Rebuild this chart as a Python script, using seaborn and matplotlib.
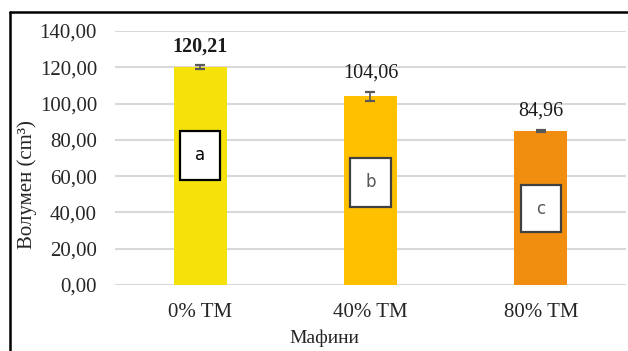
import matplotlib
matplotlib.use("Agg")
import matplotlib.pyplot as plt
from matplotlib.patches import Rectangle
from matplotlib.lines import Line2D
import seaborn as sns
import pandas as pd

# Muffin volume by share of added ingredient
categories = ["0% TM", "40% TM", "80% TM"]
volumes = [120.21, 104.06, 84.96]
errors = [1.0, 2.4, 0.5]
value_labels = ["120,21", "104,06", "84,96"]
letters = ["a", "b", "c"]
bar_colors = ["#F4E20A", "#FFC000", "#F18E10"]
ytick_values = [0, 20, 40, 60, 80, 100, 120, 140]
ytick_labels = ["0,00", "20,00", "40,00", "60,00", "80,00", "100,00", "120,00", "140,00"]

# letter boxes (bottom, top) in data units
box_spans = [(57.9, 84.9), (43.0, 70.0), (29.2, 55.1)]
box_edges = ["#000000", "#404040", "#404040"]
letter_colors = ["#000000", "#595959", "#595959"]

sns.set_style("white")
plt.rcParams["font.family"] = ["Liberation Serif", "DejaVu Serif"]

df = pd.DataFrame({"group": categories, "volume": volumes})

W, H = 628, 351
fig = plt.figure(figsize=(W / 100, H / 100), dpi=100)
ax = fig.add_axes([115 / W, (H - 285) / H, (626 - 115) / W, (285 - 31) / H])

sns.barplot(data=df, x="group", y="volume", hue="group", palette=bar_colors,
            order=categories, hue_order=categories, legend=False, width=0.31,
            errorbar=None, ax=ax, zorder=3, linewidth=0, saturation=1)

xs = list(range(len(categories)))
ax.errorbar(xs, volumes, yerr=errors, fmt="none", ecolor="#595959",
            elinewidth=1.2, capsize=3.5, capthick=1.6, zorder=4)

for x, v, e, lab in zip(xs, volumes, errors, value_labels):
    ax.annotate(lab, (x, v + e), xytext=(0, 13.5), textcoords="offset points",
                ha="center", va="center", fontsize=14.5,
                fontweight="bold" if x == 0 else "normal", color="#1a1a1a")

bw = 0.235
for x, (lo, hi), ec, lt, lc in zip(xs, box_spans, box_edges, letters, letter_colors):
    ax.add_patch(Rectangle((x - bw / 2, lo), bw, hi - lo, facecolor="white",
                           edgecolor=ec, linewidth=1.6, zorder=5))
    ax.text(x, (lo + hi) / 2, lt, ha="center", va="center", fontsize=12,
            family=["DejaVu Sans"], color=lc, zorder=6)

ax.set_ylim(0, 140)
ax.set_xlim(-0.5, 2.5)
ax.set_yticks(ytick_values)
ax.set_yticklabels(ytick_labels)
ax.yaxis.grid(True, color="#D9D9D9", linewidth=1.5, zorder=0)
ax.set_axisbelow(True)
for s in ax.spines.values():
    s.set_visible(False)
ax.tick_params(axis="y", length=0, pad=13, labelsize=15, labelcolor="#262626")
ax.tick_params(axis="x", length=0, pad=13, labelsize=15, labelcolor="#262626")
ax.set_xlabel("")
ax.set_ylabel("")

fig.text(27 / W, 1 - 185 / H, "Волумен (cm³)", rotation=90, ha="center",
         va="center", fontsize=15, color="#262626")
fig.text(324 / W, 1 - 338 / H, "Мафини", ha="center", va="center",
         fontsize=14, color="#262626")

# outer frame (left and top edges)
fig.add_artist(Line2D([10 / W, 10 / W], [0, 1 - 12 / H], transform=fig.transFigure,
                      color="black", linewidth=1.8))
fig.add_artist(Line2D([10 / W, 1], [1 - 12 / H, 1 - 12 / H], transform=fig.transFigure,
                      color="black", linewidth=1.8))

fig.savefig("out.png", dpi=100, facecolor="white")
